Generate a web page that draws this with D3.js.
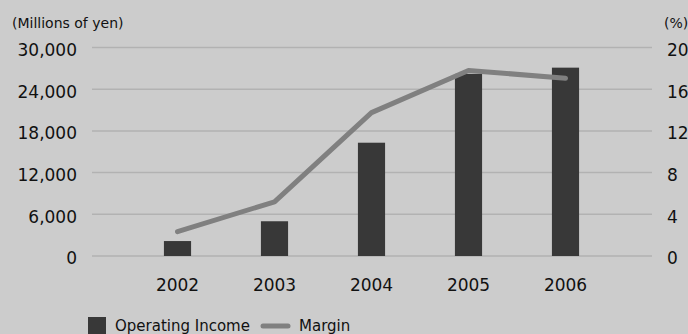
<!DOCTYPE html>
<html><head><meta charset="utf-8">
<script src="https://cdn.jsdelivr.net/npm/d3@7"></script>
<style>html,body{margin:0;padding:0;background:#cccccc;}svg{display:block;}</style>
</head><body>
<svg id="c" width="688" height="334"></svg>
<script>
const years = ["2002","2003","2004","2005","2006"];
const operatingIncome = [2150, 5000, 16300, 26200, 27100];
const margin = [2.33, 5.2, 13.75, 17.8, 17.05];
const leftTicks = [0, 6000, 12000, 18000, 24000, 30000];
const rightTicks = [0, 4, 8, 12, 16, 20];

const svg = d3.select("#c");
const font = "'DejaVu Sans', sans-serif";
svg.append("rect").attr("width",688).attr("height",334).attr("fill","#cccccc");

const x0 = 92, x1 = 652;
const yL = d3.scaleLinear().domain([0,30000]).range([256,47.5]);
const yR = d3.scaleLinear().domain([0,20]).range([256,47.5]);
const x = d3.scaleBand().domain(years).range([129,614]).paddingInner(0.72).paddingOuter(0.36);

// gridlines
svg.append("g").selectAll("line").data(leftTicks).join("line")
  .attr("x1",x0).attr("x2",x1)
  .attr("y1",d=>yL(d)).attr("y2",d=>yL(d))
  .attr("stroke","#b2b2b2").attr("stroke-width",1.5);

// left axis labels
const gl = svg.append("g").attr("transform","translate(77,0)")
  .call(d3.axisLeft(yL).tickValues(leftTicks).tickSize(0).tickPadding(0).tickFormat(d3.format(",")));
gl.select(".domain").remove();
gl.selectAll("text").attr("font-family",font).attr("font-size",17).attr("fill","#111").attr("dy","0.46em");

// right axis labels
const gr = svg.append("g").attr("transform","translate(667,0)")
  .call(d3.axisRight(yR).tickValues(rightTicks).tickSize(0).tickPadding(0));
gr.select(".domain").remove();
gr.selectAll("text").attr("font-family",font).attr("font-size",17).attr("fill","#111").attr("dy","0.46em");

// unit labels
svg.append("text").attr("x",12).attr("y",28).text("(Millions of yen)")
  .attr("font-family",font).attr("font-size",14).attr("fill","#111");
svg.append("text").attr("x",664).attr("y",28).text("(%)")
  .attr("font-family",font).attr("font-size",14).attr("fill","#111");

// bars
svg.append("g").selectAll("rect").data(years).join("rect")
  .attr("x",d=>x(d)).attr("width",x.bandwidth())
  .attr("y",(d,i)=>yL(operatingIncome[i]))
  .attr("height",(d,i)=>yL(0)-yL(operatingIncome[i]))
  .attr("fill","#383838");

// line
const line = d3.line().x((d,i)=>x(years[i])+x.bandwidth()/2).y(d=>yR(d));
svg.append("path").datum(margin).attr("d",line)
  .attr("fill","none").attr("stroke","#808080").attr("stroke-width",5)
  .attr("stroke-linecap","round").attr("stroke-linejoin","round");

// x axis labels
const gx = svg.append("g").attr("transform","translate(0,279)")
  .call(d3.axisBottom(x).tickSize(0).tickPadding(0));
gx.select(".domain").remove();
gx.selectAll("text").attr("font-family",font).attr("font-size",17).attr("fill","#111");

// legend
const lg = svg.append("g");
lg.append("rect").attr("x",88).attr("y",317).attr("width",18).attr("height",20).attr("fill","#383838");
lg.append("text").attr("x",115).attr("y",331).text("Operating Income")
  .attr("font-family",font).attr("font-size",15).attr("fill","#111");
lg.append("line").attr("x1",263).attr("x2",288).attr("y1",326).attr("y2",326)
  .attr("stroke","#808080").attr("stroke-width",5).attr("stroke-linecap","round");
lg.append("text").attr("x",299).attr("y",331).text("Margin")
  .attr("font-family",font).attr("font-size",15).attr("fill","#111");
</script>
</body></html>
